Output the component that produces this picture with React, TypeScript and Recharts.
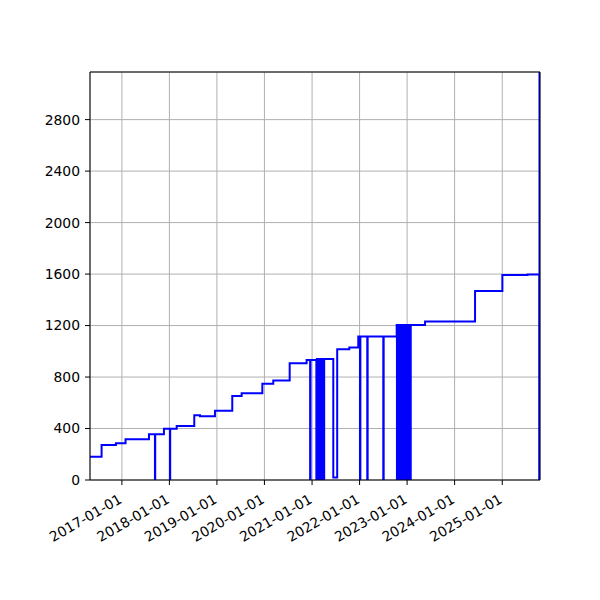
import React from 'react';
import {
  LineChart,
  Line,
  XAxis,
  YAxis,
  CartesianGrid,
  ReferenceLine
} from 'recharts';

// step series: each value holds from its date until the next date
const dates = [
  '2016-05-01', '2016-07-29', '2016-11-16', '2017-01-29', '2017-07-28',
  '2017-09-12', '2017-09-14', '2017-11-20', '2018-01-05', '2018-01-07',
  '2018-02-26', '2018-07-11', '2018-08-24', '2018-12-17', '2019-04-29',
  '2019-07-10', '2019-12-16', '2020-03-09', '2020-07-13', '2020-11-20',
  '2020-12-17', '2020-12-20',
  '2021-02-03', '2021-02-07', '2021-02-11', '2021-02-15', '2021-02-19',
  '2021-02-23', '2021-02-27', '2021-03-03', '2021-03-07', '2021-03-11',
  '2021-03-15', '2021-03-19', '2021-03-23', '2021-03-27', '2021-03-31',
  '2021-04-04',
  '2021-06-13', '2021-07-13', '2021-10-14', '2021-12-22',
  '2022-01-04', '2022-01-07', '2022-03-01', '2022-03-04', '2022-07-02',
  '2022-07-05',
  '2022-10-13', '2022-10-15', '2022-10-19', '2022-10-23', '2022-10-27',
  '2022-10-31', '2022-11-04', '2022-11-08', '2022-11-12', '2022-11-16',
  '2022-11-20', '2022-11-24', '2022-11-28', '2022-12-02', '2022-12-06',
  '2022-12-10', '2022-12-14', '2022-12-18', '2022-12-22', '2022-12-26',
  '2022-12-30', '2023-01-03', '2023-01-07', '2023-01-11', '2023-01-15',
  '2023-01-19', '2023-01-23', '2023-01-27', '2023-01-29',
  '2023-05-19', '2024-06-06', '2025-01-02', '2025-07-14', '2025-10-12',
  '2025-10-14', '2025-10-18'
];

const values = [
  181, 272, 285, 316, 355,
  0, 355, 399, 0, 399,
  420, 503, 495, 539, 653,
  674, 747, 773, 907, 933,
  0, 933,
  0, 940, 0, 940, 0,
  940, 0, 940, 0, 940,
  0, 940, 0, 940, 0,
  940,
  20, 1016, 1029, 1115,
  0, 1115, 0, 1115, 0,
  1115,
  1205, 0, 1205, 0, 1205,
  0, 1205, 0, 1205, 0,
  1205, 0, 1205, 0, 1205,
  0, 1205, 0, 1205, 0,
  1205, 0, 1205, 0, 1205,
  0, 1205, 0, 1205,
  1231, 1468, 1592, 1597, 0,
  3170, 3170
];

const xTickLabels = [
  '2017-01-01', '2018-01-01', '2019-01-01', '2020-01-01', '2021-01-01',
  '2022-01-01', '2023-01-01', '2024-01-01', '2025-01-01'
];
const yTicks = [0, 400, 800, 1200, 1600, 2000, 2400, 2800];
const yMax = 3170;

const data = dates.map((d, i) => ({ t: Date.parse(d), v: values[i] }));
const xTicks = xTickLabels.map((d) => Date.parse(d));
const xMin = data[0].t;
const xMax = data[data.length - 1].t;

const fmtDate = (t: number) => new Date(t).toISOString().slice(0, 10);

const font = 'DejaVu Sans';

const DateTick = (props: any) => {
  const { x, y, payload } = props;
  const ax = x + 1;
  const ay = y + 15;
  return (
    <text
      x={ax}
      y={ay}
      textAnchor="end"
      fill="#000"
      fontSize={13.9}
      fontFamily={font}
      transform={`rotate(-30 ${ax} ${ay})`}
    >
      {fmtDate(payload.value)}
    </text>
  );
};

export default function App() {
  return (
    <div style={{ position: 'absolute', left: 0, top: 0, width: 600, height: 600, background: '#fff' }}>
      <LineChart
        width={600}
        height={600}
        data={data}
        margin={{ top: 72, right: 60, bottom: 60, left: 0 }}
      >
        <CartesianGrid stroke="#b0b0b0" strokeWidth={1} />
        <XAxis
          dataKey="t"
          type="number"
          domain={[xMin, xMax]}
          ticks={xTicks}
          interval={0}
          allowDataOverflow
          height={60}
          tickSize={5}
          stroke="#000"
          tick={<DateTick />}
        />
        <YAxis
          type="number"
          domain={[0, yMax]}
          ticks={yTicks}
          interval={0}
          allowDataOverflow
          width={90}
          tickSize={5}
          tickMargin={5}
          stroke="#000"
          tick={{ fill: '#000', fontSize: 13.9, fontFamily: font }}
        />
        <Line
          type="stepAfter"
          dataKey="v"
          stroke="#0000ff"
          strokeWidth={2}
          dot={false}
          isAnimationActive={false}
        />
        <ReferenceLine y={yMax} stroke="#000" strokeWidth={1} />
        <ReferenceLine x={xMax} stroke="#000" strokeWidth={1} />
      </LineChart>
    </div>
  );
}
